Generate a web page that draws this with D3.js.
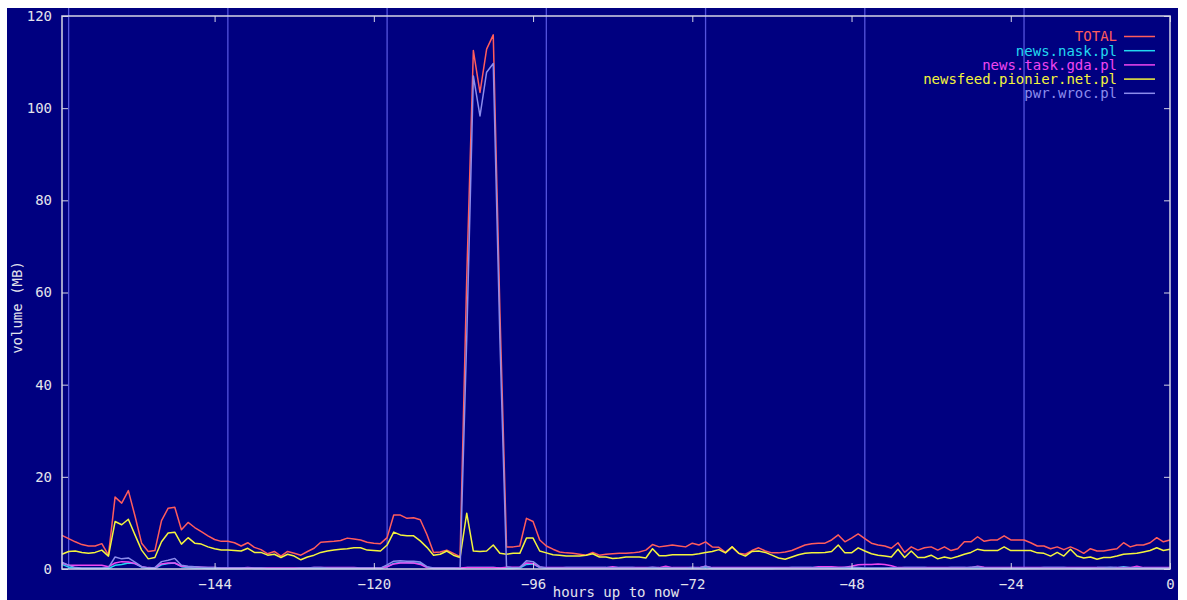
<!DOCTYPE html>
<html>
<head>
<meta charset="utf-8">
<script src="https://cdn.jsdelivr.net/npm/d3@7"></script>
<style>
  body { margin: 0; background: #fff; }
  svg { display: block; }
  .tick text, .lbl { font-family: "DejaVu Sans Mono", monospace; font-size: 14px; fill: #e4e4ec; }
  .tick line { stroke: #d4d4e4; }
  .axis path { display: none; }
</style>
</head>
<body>
<svg id="chart"></svg>
<script>
// hourly samples, oldest first (hour -167 .. 0)
const firstHour = -167;

const total = [
  7.3, 6.6, 5.9, 5.3, 5.0, 5.0, 5.5, 3.0, 15.6, 14.3,
  17.0, 11.5, 5.6, 3.8, 4.0, 10.5, 13.2, 13.4, 8.5, 10.1,
  9.0, 8.1, 7.2, 6.4, 6.0, 6.0, 5.7, 5.0, 5.7, 4.7,
  4.2, 3.3, 3.8, 2.8, 3.8, 3.4, 3.0, 3.8, 4.5, 5.8,
  5.9, 6.0, 6.2, 6.7, 6.5, 6.3, 5.8, 5.6, 5.5, 6.8,
  11.7, 11.7, 11.0, 11.1, 10.7, 7.5, 3.6, 3.7, 4.1, 3.4,
  2.7, 63, 112.5, 103.4, 112.8, 115.9, 56, 4.8, 4.8, 5.0,
  11.0, 10.3, 6.3, 5.0, 4.3, 3.7, 3.5, 3.4, 3.2, 3.0,
  3.6, 3.0, 3.2, 3.3, 3.4, 3.4, 3.5, 3.7, 4.1, 5.3,
  4.8, 5.0, 5.2, 5.0, 4.8, 5.6, 5.2, 5.9, 4.8, 4.7,
  3.6, 4.8, 3.4, 3.2, 4.0, 4.6, 3.9, 3.5, 3.5, 3.7,
  4.0, 4.6, 5.2, 5.5, 5.6, 5.6, 6.3, 7.4, 5.9, 6.7,
  7.6, 6.6, 5.6, 5.2, 5.0, 4.5, 5.7, 3.6, 4.8, 4.1,
  4.6, 4.8, 4.1, 4.8, 4.0, 4.4, 5.9, 5.9, 7.0, 6.0,
  6.3, 6.3, 7.2, 6.3, 6.3, 6.3, 5.7, 5.0, 5.0, 4.4,
  4.8, 4.2, 4.8, 4.2, 3.4, 4.4, 3.9, 3.9, 4.2, 4.4,
  5.7, 4.8, 5.2, 5.2, 5.7, 6.8, 5.9, 6.3
];

const nask = [
  1.0, 0.4, 0.2, 0.1, 0.1, 0.1, 0.1, 0.1, 0.8, 1.0,
  1.3, 1.2, 0.4, 0.1, 0.1, 0.9, 1.2, 1.3, 0.5, 0.3,
  0.2, 0.2, 0.1, 0.1, 0.1, 0.1, 0.1, 0.1, 0.2, 0.1,
  0.1, 0.1, 0.1, 0.1, 0.1, 0.1, 0.1, 0.1, 0.1, 0.1,
  0.1, 0.1, 0.1, 0.1, 0.1, 0.1, 0.1, 0.1, 0.1, 0.5,
  1.2, 1.4, 1.4, 1.3, 1.2, 0.4, 0.1, 0.1, 0.1, 0.1,
  0.1, 0.3, 0.3, 0.3, 0.3, 0.3, 0.2, 0.1, 0.1, 0.2,
  1.0, 1.1, 0.3, 0.2, 0.2, 0.2, 0.3, 0.3, 0.3, 0.3,
  0.3, 0.3, 0.3, 0.3, 0.3, 0.3, 0.3, 0.2, 0.2, 0.2,
  0.1, 0.2, 0.2, 0.2, 0.2, 0.2, 0.2, 0.3, 0.1, 0.1,
  0.1, 0.1, 0.1, 0.1, 0.1, 0.1, 0.1, 0.1, 0.2, 0.2,
  0.3, 0.3, 0.3, 0.3, 0.3, 0.3, 0.2, 0.2, 0.2, 0.1,
  0.1, 0.1, 0.1, 0.1, 0.1, 0.2, 0.2, 0.3, 0.3, 0.3,
  0.3, 0.2, 0.2, 0.2, 0.3, 0.3, 0.3, 0.2, 0.2, 0.2,
  0.2, 0.2, 0.1, 0.1, 0.1, 0.1, 0.2, 0.2, 0.3, 0.3,
  0.3, 0.3, 0.2, 0.1, 0.1, 0.1, 0.3, 0.3, 0.3, 0.3,
  0.5, 0.3, 0.2, 0.2, 0.2, 0.1, 0.1, 0.2
];

const taskGda = [
  1.3, 0.8, 0.8, 0.8, 0.8, 0.8, 0.8, 0.5, 1.3, 1.6,
  1.5, 1.2, 0.5, 0.3, 0.2, 1.1, 1.3, 1.3, 0.6, 0.5,
  0.5, 0.4, 0.3, 0.3, 0.2, 0.2, 0.2, 0.2, 0.3, 0.2,
  0.2, 0.2, 0.2, 0.2, 0.2, 0.2, 0.2, 0.2, 0.3, 0.3,
  0.3, 0.3, 0.3, 0.3, 0.3, 0.2, 0.2, 0.2, 0.2, 0.5,
  1.1, 1.3, 1.3, 1.3, 1.0, 0.3, 0.2, 0.2, 0.2, 0.2,
  0.2, 0.3, 0.3, 0.3, 0.3, 0.3, 0.2, 0.4, 0.4, 0.4,
  1.3, 1.2, 0.4, 0.3, 0.3, 0.3, 0.3, 0.3, 0.3, 0.3,
  0.3, 0.3, 0.3, 0.5, 0.3, 0.3, 0.3, 0.3, 0.3, 0.3,
  0.3, 0.6, 0.3, 0.3, 0.3, 0.3, 0.3, 0.6, 0.3, 0.3,
  0.3, 0.3, 0.3, 0.3, 0.3, 0.3, 0.3, 0.3, 0.3, 0.3,
  0.3, 0.3, 0.3, 0.3, 0.5, 0.5, 0.5, 0.4, 0.4, 0.6,
  0.9, 1.0, 1.0, 1.1, 1.0, 0.7, 0.3, 0.3, 0.3, 0.3,
  0.3, 0.3, 0.3, 0.3, 0.3, 0.3, 0.3, 0.3, 0.6, 0.4,
  0.3, 0.3, 0.3, 0.3, 0.3, 0.3, 0.3, 0.3, 0.3, 0.3,
  0.3, 0.3, 0.3, 0.3, 0.3, 0.3, 0.3, 0.3, 0.3, 0.3,
  0.3, 0.3, 0.6, 0.3, 0.3, 0.3, 0.3, 0.3
];

const pionier = [
  3.2, 3.8, 3.9, 3.6, 3.4, 3.6, 4.1, 2.8, 10.3, 9.6,
  10.8, 7.4, 4.1, 2.2, 2.5, 5.9, 7.8, 8.0, 5.4, 6.8,
  5.6, 5.4, 4.8, 4.4, 4.1, 4.1, 4.0, 3.9, 4.5, 3.6,
  3.6, 3.0, 3.2, 2.5, 3.2, 2.8, 2.0, 2.6, 3.0, 3.6,
  3.9, 4.1, 4.3, 4.4, 4.6, 4.6, 4.1, 4.0, 3.9, 5.2,
  8.0, 7.4, 7.2, 7.2, 6.1, 4.7, 3.0, 3.2, 3.9, 3.0,
  2.5, 12.1, 3.9, 3.8, 3.9, 5.2, 3.4, 3.2, 3.4, 3.4,
  6.7, 6.7, 3.9, 3.5, 3.1, 3.0, 2.8, 2.8, 2.8, 3.0,
  3.3, 2.6, 2.6, 2.3, 2.4, 2.6, 2.6, 2.6, 2.4, 4.4,
  2.9, 2.9, 3.1, 3.1, 3.1, 3.1, 3.3, 3.6, 3.8, 4.2,
  3.5, 4.8, 3.4, 2.8, 3.8, 3.9, 3.6, 3.0, 2.4, 2.1,
  2.6, 3.1, 3.4, 3.5, 3.5, 3.6, 3.8, 5.2, 3.5, 3.5,
  4.6, 3.9, 3.3, 3.0, 2.8, 2.6, 4.3, 2.5, 3.9, 2.5,
  2.5, 3.0, 2.2, 2.6, 2.3, 2.7, 3.2, 3.6, 4.3, 4.0,
  4.0, 4.0, 4.8, 4.0, 4.0, 4.0, 4.0, 3.5, 3.4, 2.8,
  3.6, 2.8, 4.3, 2.8, 2.4, 2.6, 2.1, 2.5, 2.5, 2.8,
  3.2, 3.3, 3.4, 3.7, 4.0, 4.6, 4.0, 4.3
];

const pwr = [
  1.5, 0.8, 0.3, 0.2, 0.2, 0.2, 0.2, 0.3, 2.6, 2.2,
  2.4, 1.5, 0.5, 0.2, 0.3, 1.6, 1.9, 2.3, 0.8, 0.6,
  0.5, 0.4, 0.3, 0.3, 0.2, 0.2, 0.2, 0.2, 0.2, 0.2,
  0.2, 0.1, 0.1, 0.1, 0.1, 0.1, 0.2, 0.2, 0.3, 0.3,
  0.2, 0.2, 0.2, 0.2, 0.2, 0.2, 0.2, 0.2, 0.2, 0.9,
  1.7, 1.8, 1.7, 1.7, 1.5, 0.5, 0.2, 0.2, 0.2, 0.2,
  0.1, 50, 107.0, 98.3, 107.8, 109.7, 50, 0.5, 0.2, 0.3,
  1.8, 1.6, 0.5, 0.2, 0.2, 0.2, 0.2, 0.2, 0.2, 0.2,
  0.2, 0.2, 0.2, 0.2, 0.2, 0.2, 0.2, 0.2, 0.2, 0.4,
  0.2, 0.2, 0.2, 0.2, 0.2, 0.3, 0.2, 0.6, 0.2, 0.2,
  0.2, 0.2, 0.2, 0.2, 0.2, 0.2, 0.2, 0.2, 0.2, 0.2,
  0.2, 0.2, 0.2, 0.2, 0.2, 0.2, 0.2, 0.2, 0.3, 0.4,
  0.3, 0.2, 0.2, 0.2, 0.2, 0.2, 0.2, 0.2, 0.2, 0.2,
  0.2, 0.2, 0.2, 0.2, 0.2, 0.2, 0.2, 0.4, 0.5, 0.2,
  0.2, 0.2, 0.2, 0.2, 0.2, 0.2, 0.2, 0.2, 0.2, 0.2,
  0.2, 0.2, 0.2, 0.2, 0.2, 0.2, 0.2, 0.2, 0.3, 0.2,
  0.2, 0.2, 0.2, 0.2, 0.2, 0.2, 0.2, 0.2
];

const seriesNames = ["TOTAL", "news.nask.pl", "news.task.gda.pl", "newsfeed.pionier.net.pl", "pwr.wroc.pl"];
const seriesColors = ["#ff5c5c", "#22d8f0", "#f046f0", "#f4f43c", "#8c8cec"];
const seriesValues = [total, nask, taskGda, pionier, pwr];

const xTicks = [-144, -120, -96, -72, -48, -24, 0];
const yTicks = [0, 20, 40, 60, 80, 100, 120];
// day boundary markers
const dayLines = [-166, -142, -118, -94, -70, -46, -22];

const W = 1187, H = 600;
const bg = { left: 7, right: 1178, top: 8 };
const margin = { top: 16, right: 17, bottom: 31, left: 62 };

const svg = d3.select("#chart").attr("width", W).attr("height", H);

svg.append("rect")
    .attr("x", bg.left).attr("y", bg.top)
    .attr("width", bg.right - bg.left).attr("height", H - bg.top)
    .attr("fill", "#000080");

const x = d3.scaleLinear().domain([firstHour, 0]).range([margin.left, W - margin.right]);
const y = d3.scaleLinear().domain([0, 120]).range([H - margin.bottom, margin.top]);

// vertical day lines
svg.append("g").selectAll("line")
    .data(dayLines)
    .join("line")
    .attr("x1", d => x(d)).attr("x2", d => x(d))
    .attr("y1", y(0)).attr("y2", bg.top)
    .attr("stroke", "#5454dc")
    .attr("stroke-width", 1.3);

// series lines, drawn in legend order
const line = d3.line()
    .x((d, i) => x(firstHour + i))
    .y(d => y(d));

seriesValues.forEach((vals, k) => {
    svg.append("path")
        .datum(vals)
        .attr("fill", "none")
        .attr("stroke", seriesColors[k])
        .attr("stroke-width", 1.5)
        .attr("stroke-linejoin", "round")
        .attr("d", line);
});

// frame
svg.append("rect")
    .attr("x", x(firstHour)).attr("y", y(120))
    .attr("width", x(0) - x(firstHour)).attr("height", y(0) - y(120))
    .attr("fill", "none")
    .attr("stroke", "#d4d4e4")
    .attr("stroke-width", 1.5);

// axes, ticks pointing inwards on all four sides
svg.append("g").attr("class", "axis")
    .attr("transform", `translate(0,${y(0)})`)
    .call(d3.axisBottom(x).tickValues(xTicks).tickSize(-6).tickPadding(10));
svg.append("g").attr("class", "axis")
    .attr("transform", `translate(0,${y(120)})`)
    .call(d3.axisTop(x).tickValues(xTicks).tickSize(-6).tickFormat(""));
svg.append("g").attr("class", "axis")
    .attr("transform", `translate(${x(firstHour)},0)`)
    .call(d3.axisLeft(y).tickValues(yTicks).tickSize(-6).tickPadding(10));
svg.append("g").attr("class", "axis")
    .attr("transform", `translate(${x(0)},0)`)
    .call(d3.axisRight(y).tickValues(yTicks).tickSize(-6).tickFormat(""));

svg.selectAll(".tick text").attr("font-family", null).attr("font-size", null);

// axis titles
svg.append("text")
    .attr("class", "lbl")
    .attr("text-anchor", "middle")
    .attr("transform", `translate(22,${(y(0) + y(120)) / 2 + 15}) rotate(-90)`)
    .text("volume (MB)");

svg.append("text")
    .attr("class", "lbl")
    .attr("text-anchor", "middle")
    .attr("x", (x(firstHour) + x(0)) / 2)
    .attr("y", 597)
    .text("hours up to now");

// legend
const legend = svg.append("g").attr("transform", "translate(1117,36.5)");
seriesNames.forEach((name, k) => {
    const row = legend.append("g").attr("transform", `translate(0,${k * 14.2})`);
    row.append("text")
        .attr("class", "lbl")
        .attr("text-anchor", "end")
        .attr("dy", "0.35em")
        .style("fill", seriesColors[k])
        .text(name);
    row.append("line")
        .attr("x1", 7).attr("x2", 38)
        .attr("stroke", seriesColors[k])
        .attr("stroke-width", 1.5);
});
</script>
</body>
</html>
